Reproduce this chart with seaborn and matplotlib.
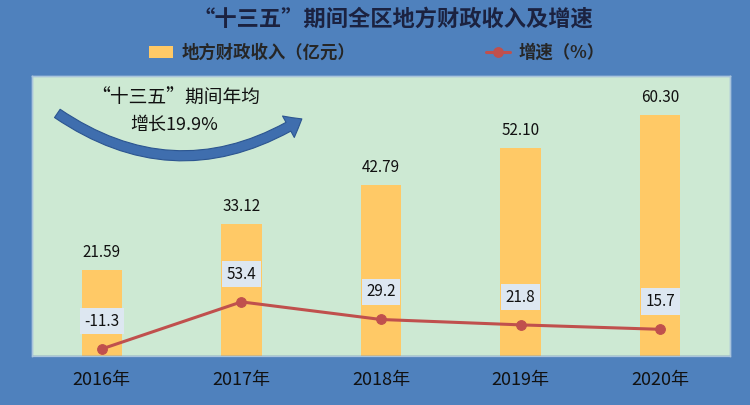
import numpy as np
import matplotlib
matplotlib.use("Agg")
import matplotlib.pyplot as plt
import matplotlib.patches as mpatches
import seaborn as sns

years = ["2016年", "2017年", "2018年", "2019年", "2020年"]
revenue = [21.59, 33.12, 42.79, 52.10, 60.30]
growth = [-11.3, 53.4, 29.2, 21.8, 15.7]

BG = "#4f81bd"
PLOT_BG = "#cde9d3"
BAR = "#ffc966"
LINE = "#c0504d"
BOX = "#dde7f1"

sns.set_style("white")
plt.rcParams["font.family"] = ["Noto Sans CJK SC", "DejaVu Sans"]

fig = plt.figure(figsize=(7.5, 4.05), dpi=100, facecolor=BG)
ax = fig.add_axes([32 / 750, 1 - 356 / 405, 698 / 750, 280 / 405])
ax.set_facecolor(PLOT_BG)

sns.barplot(x=years, y=revenue, color=BAR, saturation=1, width=0.29,
            linewidth=0, ax=ax)
ax.set_xlim(-0.5, 4.5)
ax.set_ylim(0, 70)
ax.set_yticks([])
ax.set_ylabel("")
ax.tick_params(axis="x", length=0, pad=11, labelsize=13, labelcolor="#111111")

for i, v in enumerate(revenue):
    ax.annotate(f"{v:.2f}", (i, v), xytext=(0, 12.5), textcoords="offset points",
                ha="center", va="center", fontsize=11, color="#111111")

ax2 = ax.twinx()
sns.lineplot(x=np.arange(len(growth)), y=growth, color=LINE, linewidth=2.2,
             marker="o", markersize=7, markeredgecolor=LINE, ax=ax2)
ax2.set_ylim(-21, 364)
ax2.set_yticks([])
ax2.set_ylabel("")

for i, g in enumerate(growth):
    ax2.annotate(f"{g:.1f}", (i, g), xytext=(0, 20), textcoords="offset points",
                 ha="center", va="center", fontsize=11, color="#111111",
                 bbox=dict(boxstyle="square,pad=0.3", fc=BOX, ec="none"))

for a in (ax, ax2):
    for s in a.spines.values():
        s.set_color("#a9c4dc")
        s.set_linewidth(1)
ax.spines["bottom"].set_color("#3a64a0")

# curved arrow with note
arrow = mpatches.FancyArrowPatch(
    (0.033, 0.872), (0.39, 0.852), transform=ax.transAxes,
    connectionstyle="arc3,rad=0.33",
    arrowstyle=mpatches.ArrowStyle.Simple(head_length=0.7, head_width=1.1, tail_width=0.45),
    mutation_scale=16, fc="#3f6eae", ec="#2c5590", lw=0.8, clip_on=False)
ax.add_patch(arrow)
ax.text(0.206, 0.921, "“十三五”期间年均", transform=ax.transAxes,
        ha="center", va="center", fontsize=13.5, color="#111111")
ax.text(0.203, 0.825, "增长19.9%", transform=ax.transAxes,
        ha="center", va="center", fontsize=13, color="#111111")

fig.text(0.524, 1 - 19 / 405, "“十三五”期间全区地方财政收入及增速",
         ha="center", va="center", fontsize=16, fontweight="bold", color="#1b2240")

fig.legend(handles=[ax.patches[0], ax2.lines[0]],
           labels=["地方财政收入（亿元）", "增速（%）"],
           loc="center", bbox_to_anchor=(377 / 750, 1 - 53 / 405), ncol=2,
           frameon=False, columnspacing=7.5, handlelength=1.4, handletextpad=0.5,
           prop={"size": 12.5, "weight": "bold"})

fig.savefig("out.png", dpi=100, facecolor=BG)
